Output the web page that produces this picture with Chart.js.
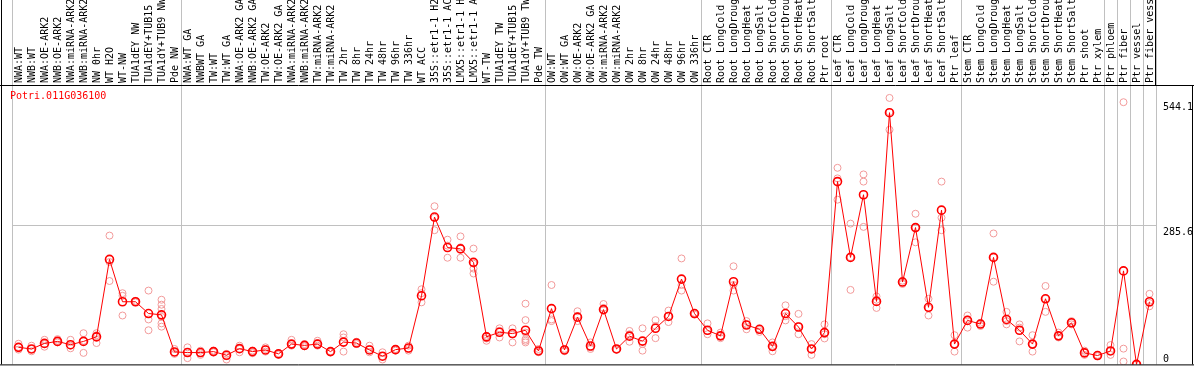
<!DOCTYPE html>
<html>
<head>
<meta charset="utf-8">
<script src="https://cdn.jsdelivr.net/npm/chart.js@4/dist/chart.umd.min.js"></script>
<style>
  html, body { margin: 0; padding: 0; background: #fff; }
  canvas { display: block; }
</style>
</head>
<body>
<canvas id="chart" width="1194" height="370"></canvas>
<script>
const geneId = 'Potri.011G036100';

const categories = [
  'NWA:WT', 'NWB:WT', 'NWA:OE-ARK2', 'NWB:OE-ARK2', 'NWA:miRNA-ARK2', 'NWB:miRNA-ARK2',
  'NW 0hr', 'WT H2O', 'WT-NW', 'TUA1dEY NW', 'TUA1dEY+TUB15', 'TUA1dY+TUB9 NW', 'Pde NW',
  'NWA:WT GA', 'NWBWT GA', 'TW:WT', 'TW:WT GA', 'NWA:OE-ARK2 GA', 'NWB:OE-ARK2 GA',
  'TW:OE-ARK2', 'TW:OE-ARK2 GA', 'NWA:miRNA-ARK2', 'NWB:miRNA-ARK2', 'TW:miRNA-ARK2',
  'TW:miRNA-ARK2', 'TW 2hr', 'TW 8hr', 'TW 24hr', 'TW 48hr', 'TW 96hr', 'TW 336hr',
  'WT ACC', '35S::etr1-1 H2O', '35S::etr1-1 ACC', 'LMX5::etr1-1 H2O', 'LMX5::etr1-1 ACC',
  'WT-TW', 'TUA1dEY TW', 'TUA1dEY+TUB15', 'TUA1dY+TUB9 TW', 'Pde TW',
  'OW:WT', 'OW:WT GA', 'OW:OE-ARK2', 'OW:OE-ARK2 GA', 'OW:miRNA-ARK2', 'OW:miRNA-ARK2',
  'OW 2hr', 'OW 8hr', 'OW 24hr', 'OW 48hr', 'OW 96hr', 'OW 336hr',
  'Root CTR', 'Root LongCold', 'Root LongDrought', 'Root LongHeat', 'Root LongSalt',
  'Root ShortCold', 'Root ShortDrought', 'Root ShortHeat', 'Root ShortSalt', 'Ptr root',
  'Leaf CTR', 'Leaf LongCold', 'Leaf LongDrought', 'Leaf LongHeat', 'Leaf LongSalt',
  'Leaf ShortCold', 'Leaf ShortDrought', 'Leaf ShortHeat', 'Leaf ShortSalt', 'Ptr leaf',
  'Stem CTR', 'Stem LongCold', 'Stem LongDrought', 'Stem LongHeat', 'Stem LongSalt',
  'Stem ShortCold', 'Stem ShortDrought', 'Stem ShortHeat', 'Stem ShortSalt', 'Ptr shoot',
  'Ptr xylem', 'Ptr phloem', 'Ptr fiber', 'Ptr vessel', 'Ptr fiber vessel'
];

// first sample of each experiment block (vertical separators)
const groupStarts = [0, 13, 41, 53, 63, 73, 84, 85, 86, 87];

const means = [
  35.2, 31.8, 43.3, 47.4, 40.6, 47.4, 56.8, 216.5, 129.2, 129.2, 104.9, 102.2, 25.7,
  24.4, 24.4, 26.4, 18.9, 32.5, 26.4, 29.8, 21.7, 41.9, 39.2, 41.9, 26.4, 46.0, 44.0,
  29.8, 16.9, 30.4, 33.8, 141.4, 303.8, 240.9, 238.2, 210.4, 56.8, 66.3, 63.6, 70.4, 27.7,
  115.0, 29.8, 97.4, 37.9, 113.0, 31.8, 58.2, 48.0, 74.4, 98.8, 175.9, 104.9,
  70.4, 58.9, 170.5, 81.2, 72.4, 37.2, 104.9, 77.1, 31.8, 65.6,
  376.9, 220.6, 349.8, 129.9, 519.0, 169.8, 282.1, 117.7, 318.0, 41.9,
  90.7, 83.2, 220.6, 92.7, 70.4, 41.9, 135.3, 58.9, 85.9, 23.7, 18.3,
  27.7, 192.8, 0, 129.2
];

const replicates = [
  [42.6, 35.9, 30.4], [38.6, 27.1, 31.8], [50.7, 36.4, 41.9], [52.1, 45.3, 48.7],
  [50.7, 33.2, 38.6], [64.3, 23.7, 48.7], [64.3, 44.0, 60.2], [265.6, 171.9, 211.1],
  [146.8, 100.8, 141.4], [131.0, 128.0, 129.0], [152.2, 92.7, 70.4],
  [133.3, 123.1, 114.3, 98.0, 84.6, 77.8], [31.8, 21.7, 25.0],
  [35.2, 12.9, 25.0], [28.4, 19.6, 23.0], [28.4, 25.0, 26.4], [21.7, 10.1, 16.9],
  [38.6, 25.0, 31.8], [28.4, 23.0, 25.0], [35.2, 26.4, 31.8], [23.0, 19.6, 21.7],
  [50.7, 38.6, 41.9], [41.9, 37.2, 39.9], [48.7, 38.6, 44.0], [27.1, 25.0, 25.7],
  [62.2, 26.4, 55.5], [46.7, 41.9, 44.0], [38.6, 25.0, 31.8], [25.0, 10.1, 16.9],
  [31.8, 28.4, 30.4], [38.6, 28.4, 31.8], [154.9, 127.9, 146.8], [326.1, 276.7, 302.4],
  [257.1, 219.9, 244.9], [263.9, 219.9, 241.5], [238.8, 197.6, 187.4, 207.7],
  [58.9, 48.7, 53.5], [74.4, 55.5, 69.0], [74.4, 45.3, 62.2],
  [125.2, 91.3, 52.1, 48.7, 45.3, 65.6], [31.8, 25.0, 28.4],
  [163.7, 89.3, 92.7], [31.8, 27.1, 29.8], [109.6, 89.3, 99.5], [45.3, 31.8, 35.2],
  [124.5, 111.6, 116.4], [31.8, 30.4, 31.1], [69.0, 46.7, 62.2], [74.4, 28.4, 41.9],
  [91.3, 54.1, 79.2], [111.0, 87.3, 99.5], [218.5, 152.2, 163.7], [104.9, 102.8, 106.2],
  [84.6, 62.2, 69.0], [65.6, 54.1, 58.9], [202.3, 152.2, 163.7], [89.3, 72.4, 82.5],
  [73.7, 67.0, 71.0], [45.3, 27.1, 35.2], [121.8, 90.7, 99.5], [104.2, 62.2, 79.2],
  [41.9, 19.6, 31.8], [82.5, 53.5, 62.2],
  [405.3, 339.6, 383.6], [290.3, 153.6, 221.2], [391.7, 376.9, 283.5], [140.1, 116.4, 133.3],
  [549.4, 483.8, 520.3], [172.5, 165.8, 168.5], [310.6, 251.7, 282.1], [135.3, 100.8, 116.4],
  [376.9, 302.4, 276.7], [60.2, 26.4, 41.9],
  [100.8, 75.8, 92.7], [85.9, 79.2, 82.5], [270.0, 170.5, 220.6], [108.3, 82.5, 89.3],
  [82.5, 47.4, 75.8], [60.2, 26.4, 41.9], [161.7, 108.3, 135.3], [65.6, 55.5, 58.9],
  [89.3, 82.5, 85.9], [28.4, 19.6, 25.0], [19.6, 16.9, 18.3],
  [39.9, 19.6, 27.7], [540.6, 32.5, 6.0], [0, 0, 1.0], [145.5, 119.8, 126.5]
];

const yTicks = [0, 285.6, 544.1];
const yGridValues = [285.6];
const yMax = 574;

const replicatePoints = [];
replicates.forEach((reps, i) => {
  reps.forEach(v => replicatePoints.push({ x: i, y: v }));
});

const monoFont = '"DejaVu Sans Mono", "Liberation Mono", monospace';
const gridGray = '#c0c0c0';

// frame, y labels and gene id
const framePlugin = {
  id: 'frame',
  afterDraw(chart) {
    const { ctx, chartArea, scales } = chart;
    const W = chart.width;
    ctx.save();
    ctx.strokeStyle = '#000';
    ctx.lineWidth = 1;
    ctx.beginPath();
    ctx.moveTo(0, chartArea.top - 0.5);
    ctx.lineTo(W, chartArea.top - 0.5);
    ctx.moveTo(0, chartArea.bottom + 0.5);
    ctx.lineTo(W, chartArea.bottom + 0.5);
    ctx.moveTo(1.5, 0);
    ctx.lineTo(1.5, chartArea.bottom);
    ctx.moveTo(chartArea.right - 0.5, 0);
    ctx.lineTo(chartArea.right - 0.5, chartArea.top);
    ctx.moveTo(W - 1.5, chartArea.top);
    ctx.lineTo(W - 1.5, chartArea.bottom);
    ctx.stroke();

    ctx.font = '10px ' + monoFont;
    ctx.textAlign = 'left';
    ctx.textBaseline = 'middle';
    ctx.fillStyle = '#000';
    yTicks.forEach(v => {
      const y = Math.min(scales.y.getPixelForValue(v) + 7, chartArea.bottom - 5);
      ctx.fillText(String(v), chartArea.right + 7, y);
    });

    ctx.fillStyle = '#ff0000';
    ctx.textBaseline = 'top';
    ctx.fillText(geneId, chartArea.left - 2, chartArea.top + 5);
    ctx.restore();
  }
};

new Chart(document.getElementById('chart'), {
  type: 'line',
  data: {
    labels: categories,
    datasets: [
      {
        label: 'mean',
        data: means,
        borderColor: '#ff0000',
        borderWidth: 1,
        pointRadius: 4,
        pointBorderWidth: 1.6,
        pointBorderColor: '#ff0000',
        pointBackgroundColor: 'rgba(255,255,255,0)',
        tension: 0,
        order: 0
      },
      {
        label: 'replicates',
        data: replicatePoints,
        parsing: false,
        showLine: false,
        pointRadius: 3.5,
        pointBorderWidth: 1,
        pointBorderColor: '#f29a9a',
        pointBackgroundColor: 'rgba(255,255,255,0)',
        order: 1
      }
    ]
  },
  options: {
    responsive: false,
    animation: false,
    events: [],
    layout: { padding: { left: 12, right: 0, top: 0, bottom: 1 } },
    plugins: {
      legend: { display: false },
      tooltip: { enabled: false },
      title: { display: false }
    },
    scales: {
      x: {
        type: 'category',
        position: 'top',
        offset: true,
        grid: {
          offset: true,
          lineWidth: 1,
          color: c => (c.type !== 'tick' || groupStarts.includes(c.index)) ? gridGray : 'rgba(0,0,0,0)',
          drawTicks: true,
          tickLength: 86
        },
        border: { display: false },
        ticks: {
          autoSkip: false,
          minRotation: 90,
          maxRotation: 90,
          padding: -83,
          labelOffset: 13,
          color: '#000',
          font: { family: monoFont, size: 10 }
        },
        afterFit: s => { s.height = 86; s.paddingLeft = 0; s.paddingRight = 0; }
      },
      y: {
        position: 'right',
        min: 0,
        max: yMax,
        afterBuildTicks: s => { s.ticks = yTicks.map(v => ({ value: v })); },
        grid: {
          drawTicks: false,
          color: c => (c.tick && yGridValues.includes(c.tick.value)) ? gridGray : 'rgba(0,0,0,0)'
        },
        border: { display: false },
        ticks: { display: false },
        afterFit: s => { s.width = 38; }
      }
    }
  },
  plugins: [framePlugin]
});
</script>
</body>
</html>
